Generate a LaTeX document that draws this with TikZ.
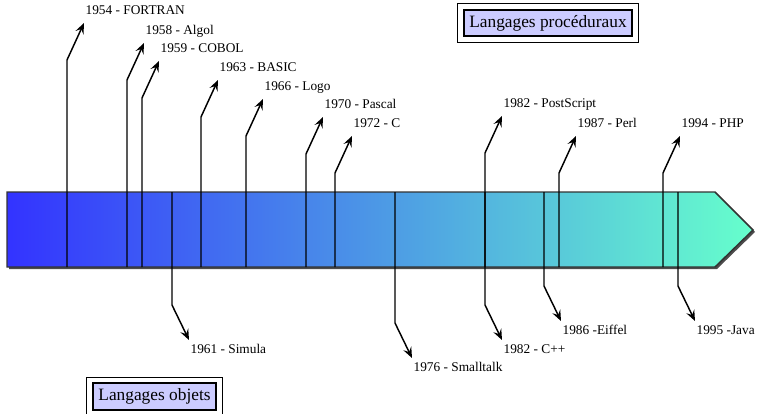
\documentclass[tikz,border=0pt]{standalone}
\usepackage{fontspec}
\setmainfont{Liberation Serif}
\usetikzlibrary{arrows.meta}
\definecolor{debut}{RGB}{51,51,255}
\definecolor{fin}{RGB}{102,255,204}
\definecolor{lavande}{RGB}{204,204,255}
\begin{document}
\begin{tikzpicture}[x=0.75pt,y=-0.75pt,
    fleche/.style={-{Stealth[length=8pt,width=6.5pt,inset=3pt]},line width=1.1pt},
    haut/.style={anchor=south west,inner xsep=1pt,inner ysep=6pt,text depth=0pt,font=\fontsize{10}{12}\selectfont},
    bas/.style={anchor=north west,inner xsep=1pt,inner ysep=3pt,font=\fontsize{10}{12}\selectfont},
    titre/.style={draw,line width=1.2pt,fill=lavande,inner xsep=4pt,inner ysep=4pt,font=\fontsize{13}{15}\selectfont}]
    \useasboundingbox(0,0)rectangle(758,414);
    % la barre du temps
    \fill[black!70](9,194)--(717,194)--(755,232)--(717,269)--(9,269)--cycle;
    \shade[left color=debut,right color=fin](7,192)--(715,192)--(753,230)--(715,267)--(7,267)--cycle;
    \draw[line width=1.1pt,black!80](7,192)--(715,192)--(753,230)--(715,267)--(7,267)--cycle;
    % langages proceduraux (au dessus)
    \foreach \x/\e/\n/\t in {67/60/fortran/1954 - FORTRAN,127/80/algol/1958 - Algol,142/98/cobol/1959 - COBOL,
        201/117/basic/1963 - BASIC,246/136/logo/1966 - Logo,306/154/pascal/1970 - Pascal,335/173/c/1972 - C,
        485/153/postscript/1982 - PostScript,559/173/perl/1987 - Perl,663/173/php/1994 - PHP}{
        \coordinate(\n0)at(\x,267);
        \node[haut](\n)at(\x+17,\e-37){\t};
        \draw[fleche](\n0)--(\x,\e)--(\n.south west);
    }
    % langages objets (en dessous)
    \foreach \x/\e/\n/\t in {172/305/simula/1961 - Simula,395/323/smalltalk/1976 - Smalltalk,485/305/cpp/1982 - C++,
        544/286/eiffel/1986 -Eiffel,678/286/java/1995 -Java}{
        \coordinate(\n0)at(\x,192);
        \node[bas](\n)at(\x+17,\e+35){\t};
        \draw[fleche](\n0)--(\x,\e)--(\n.north west);
    }
    % legendes
    \node[titre](proc)at(548,23){Langages procéduraux};
    \draw[line width=0.8pt]([shift={(-4pt,4pt)}]proc.north west)rectangle([shift={(4pt,-4pt)}]proc.south east);
    \node[titre](obj)at(154.5,396.5){Langages objets};
    \draw[line width=0.8pt]([shift={(-4pt,4pt)}]obj.north west)rectangle([shift={(4pt,-4pt)}]obj.south east);
\end{tikzpicture}
\end{document}
